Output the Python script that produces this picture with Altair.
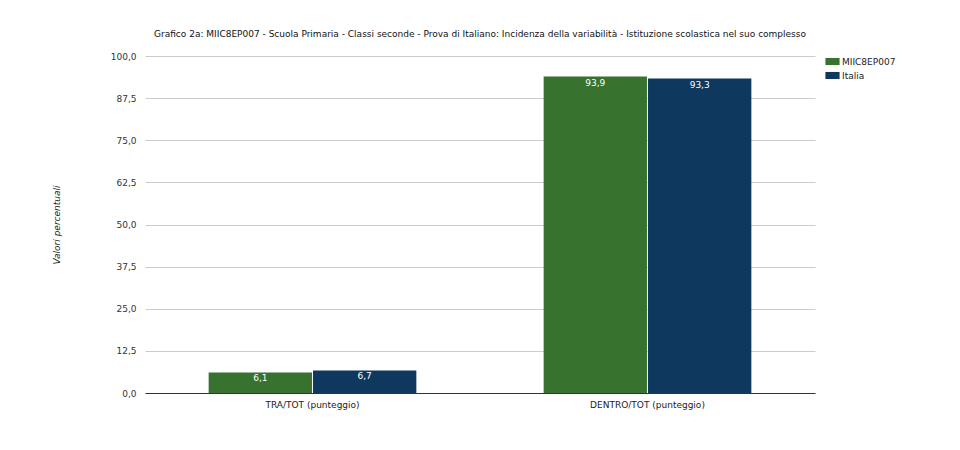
import altair as alt
import pandas as pd

categories = ["TRA/TOT (punteggio)", "DENTRO/TOT (punteggio)"]
series = ["MIIC8EP007", "Italia"]
values_school = [6.1, 93.9]
values_italy = [6.7, 93.3]
y_ticks = [0, 12.5, 25, 37.5, 50, 62.5, 75, 87.5, 100]

rows = []
for i, c in enumerate(categories):
    rows.append({"cat": c, "serie": series[0], "val": values_school[i]})
    rows.append({"cat": c, "serie": series[1], "val": values_italy[i]})
df = pd.DataFrame(rows)
df["lbl"] = df["val"].map(lambda v: f"{v:.1f}".replace(".", ","))

FONT = "DejaVu Sans"
colors = ["#37732f", "#0e385e"]

x = alt.X("cat:N", sort=categories, title=None,
          scale=alt.Scale(paddingInner=0.38, paddingOuter=0.19),
          axis=alt.Axis(labelAngle=0, ticks=False, domain=True, domainColor="#333",
                        domainWidth=1, grid=False, labelFont=FONT,
                        labelFontSize=9, labelColor="#222", labelPadding=7))
xo = alt.XOffset("serie:N", sort=series, scale=alt.Scale(paddingInner=0.01))
y = alt.Y("val:Q", title="Valori percentuali",
          scale=alt.Scale(domain=[0, 100], nice=False),
          axis=alt.Axis(values=y_ticks, ticks=False, domain=False,
                        labelExpr="replace(format(datum.value,'.1f'),'.',',')",
                        labelFont=FONT, labelFontSize=9, labelColor="#333",
                        labelPadding=9, gridColor="#cccccc", gridWidth=1,
                        titleFont=FONT, titleFontSize=9, titleFontStyle="italic",
                        titleFontWeight="normal", titleColor="#222",
                        titlePadding=49))

bars = alt.Chart(df).mark_bar().encode(
    x=x, xOffset=xo, y=y,
    color=alt.Color("serie:N", sort=series,
                    scale=alt.Scale(domain=series, range=colors),
                    legend=alt.Legend(title=None, orient="none", legendX=680, legendY=-2,
                                      symbolType="M-1,-0.5H1V0.5H-1Z", symbolSize=200,
                                      symbolStrokeWidth=0, labelFont=FONT, labelFontSize=9,
                                      labelColor="#222", rowPadding=1, labelOffset=2)),
)

texts = alt.Chart(df).mark_text(baseline="top", dy=2, color="white", font=FONT, fontSize=9).encode(
    x=alt.X("cat:N", sort=categories), xOffset=xo, y="val:Q", text="lbl:N"
)

chart = alt.layer(bars, texts).properties(
    width=670, height=337,
    background="white",
    title=alt.TitleParams(
        "Grafico 2a: MIIC8EP007 - Scuola Primaria - Classi seconde - Prova di Italiano: Incidenza della variabilità - Istituzione scolastica nel suo complesso",
        font=FONT, fontSize=9, fontWeight="normal", color="#111", anchor="middle", offset=13),
    autosize=alt.AutoSizeParams(type="none"),
    padding={"left": 145, "top": 56, "right": 145, "bottom": 57},
).configure_view(stroke=None, strokeWidth=0)

chart.save("out.html", embed_options={"renderer": "svg", "actions": False})
